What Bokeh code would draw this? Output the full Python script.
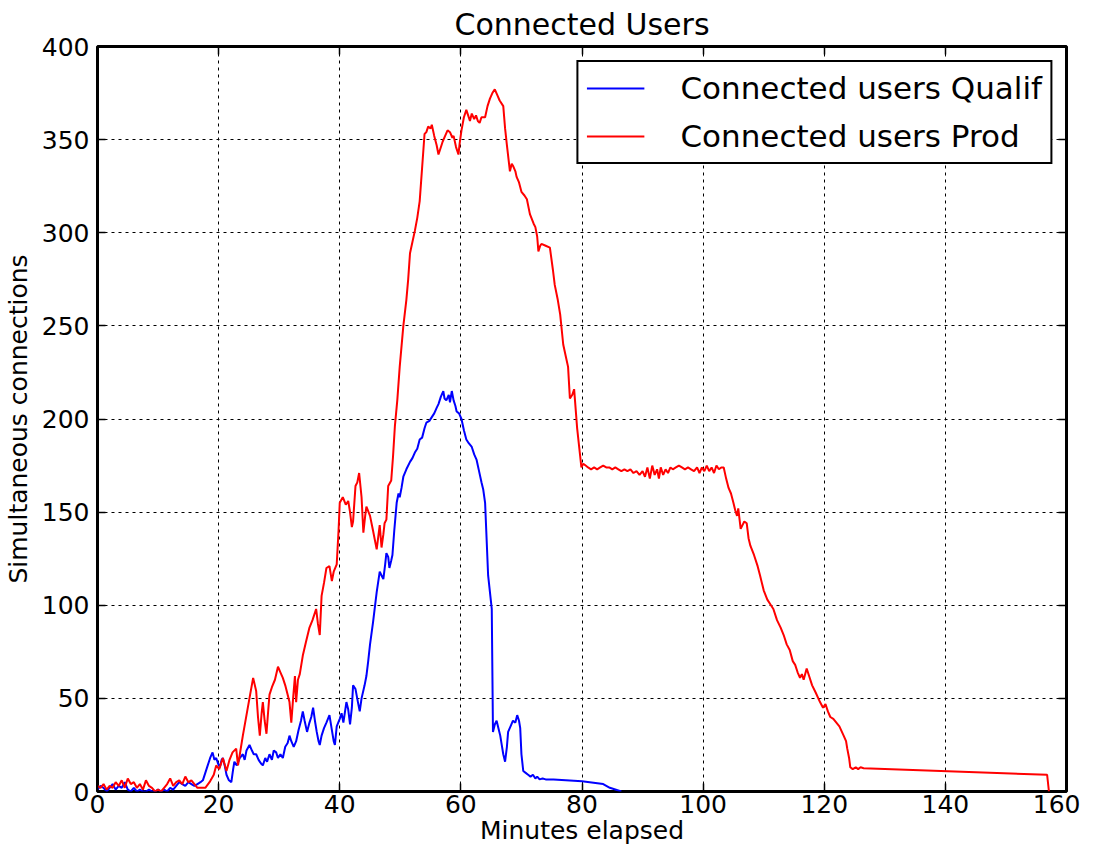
from bokeh.plotting import figure
from bokeh.models import LinearAxis, FixedTicker
from bokeh.embed import file_html
from bokeh.resources import INLINE

# ---- data (minutes elapsed, simultaneous connections) ----
prod_x = [0.0, 0.5, 1.0, 1.5, 2.0, 2.5, 3.0, 3.5, 4.0, 4.5, 5.0, 5.5, 6.0, 6.5, 7.0, 7.5, 8.0, 8.5, 9.0, 9.5,
          10.0, 10.5, 11.0, 11.5, 12.0, 12.5, 13.0, 13.5, 14.0, 14.5, 15.0, 15.5, 16.0, 16.5, 17.0, 17.8, 18.5,
          19.2, 19.6, 20.1, 20.7, 21.3, 21.8, 22.3, 22.9, 23.2, 23.6, 24.0, 24.6, 25.2, 25.7, 26.2, 26.5, 26.8,
          27.1, 27.3, 27.6, 27.9, 28.2, 28.4, 28.8, 29.3, 29.8, 30.2, 30.6, 31.0, 31.4, 31.7, 32.0, 32.3, 32.6,
          32.8, 33.1, 33.4, 33.9, 34.4, 35.0, 35.5, 36.1, 36.4, 36.7, 37.0, 37.4, 37.8, 38.3, 38.7, 39.0, 39.5,
          39.8, 40.0, 40.5, 41.0, 41.4, 41.7, 42.0, 42.2, 42.6, 42.9, 43.2, 43.6, 43.9, 44.2, 44.4, 45.0, 45.5,
          46.1, 46.6, 46.9, 47.2, 47.4, 47.7, 48.0, 48.5, 48.8, 49.1, 49.5, 49.9, 50.5, 51.0, 51.3, 51.6, 52.0,
          52.4, 52.8, 53.2, 53.6, 54.0, 54.3, 54.6, 55.0, 55.2, 55.6, 56.0, 56.3, 56.6, 57.0, 57.4, 57.8, 58.2,
          58.6, 58.8, 59.2, 59.6, 59.8, 60.1, 60.5, 60.9, 61.2, 61.5, 61.8, 62.2, 62.5, 62.8, 63.1, 63.4, 64.0,
          64.4, 64.8, 65.2, 65.6, 66.0, 66.4, 67.0, 67.3, 67.6, 68.1, 68.4, 68.6, 69.0, 69.2, 69.6, 70.0, 70.5,
          70.9, 71.4, 72.0, 72.3, 72.6, 72.8, 73.1, 73.3, 74.0, 74.7, 75.2, 75.5, 76.0, 76.4, 76.9, 77.3, 77.7,
          78.0, 78.4, 78.7, 79.2, 79.7, 79.9, 80.2, 80.6, 81.0, 81.5, 82.0, 82.5, 83.0, 83.5, 84.0, 84.5, 85.0,
          85.5, 86.0, 86.5, 87.0, 87.5, 88.0, 88.5, 89.0, 89.5, 90.0, 90.4, 90.8, 91.2, 91.6, 92.0, 92.4, 92.7,
          93.0, 93.4, 93.8, 94.2, 94.6, 95.0, 95.5, 96.0, 96.5, 97.0, 97.5, 98.0, 98.5, 99.0, 99.4, 99.8, 100.2,
          100.6, 101.0, 101.4, 101.8, 102.2, 102.6, 103.0, 103.4, 103.8, 104.2, 104.6, 105.0, 105.3, 105.6,
          105.8, 106.2, 106.5, 106.8, 107.2, 107.5, 107.8, 108.4, 109.0, 109.4, 110.0, 110.6, 111.2, 111.6,
          112.2, 112.8, 113.3, 113.8, 114.3, 114.8, 115.2, 115.6, 116.0, 116.3, 116.6, 117.1, 117.5, 118.0,
          118.6, 119.3, 119.8, 120.2, 120.6, 121.0, 121.5, 122.0, 122.5, 123.2, 123.6, 123.8, 124.1, 124.3,
          124.7, 125.2, 125.6, 126.0, 126.5, 156.8, 157.1]
prod_y = [3, 2, 4, 1, 3, 2, 5, 3, 6, 2, 7, 4, 5, 2, 4, 1, 6, 3, 2, 0,
          1, 0, 2, 4, 7, 3, 5, 6, 4, 8, 5, 6, 4, 2, 2, 2, 5,
          9, 14, 12, 18, 11, 17, 21, 23, 14, 22, 30, 41, 52, 61, 54, 40, 30,
          42, 48, 38, 31, 44, 52, 56, 60, 67, 64, 61, 57, 52, 48, 37, 50, 62,
          48, 60, 63, 73, 80, 88, 92, 98, 90, 84, 105, 112, 120, 121, 113, 118, 122,
          140, 155, 158, 154, 156, 150, 142, 145, 164, 166, 171, 158, 139, 148, 153, 148, 140,
          130, 143, 131, 138, 144, 146, 164, 167, 180, 196, 210, 228, 250, 264, 275, 289, 295,
          301, 308, 317, 335, 353, 354, 357, 356, 358, 352, 347, 342, 345, 349, 352, 355, 354,
          351, 352, 346, 342, 348, 355, 362, 366, 363, 360, 364, 361, 363, 360, 359, 362, 362,
          368, 372, 375, 377, 374, 371, 368, 356, 347, 333, 337, 336, 333, 330, 327, 322, 320,
          318, 310, 305, 303, 298, 290, 293, 294, 293, 292, 280, 272, 264, 256, 240, 234, 228,
          211, 213, 216, 195, 180, 174, 176, 175, 174, 173, 174, 173, 174, 175, 174, 174, 173,
          174, 173, 172, 173, 172, 173, 171, 172, 170, 172, 169, 174, 168, 175, 170, 173, 168,
          174, 170, 173, 171, 174, 173, 174, 175, 174, 173, 174, 173, 172, 174, 171, 174, 172,
          175, 172, 174, 171, 175, 173, 174, 174, 168, 163, 160, 155, 151, 148,
          152, 141, 143, 145, 144, 136, 132, 127, 121, 116, 108, 103, 100, 98,
          92, 88, 84, 79, 76, 70, 68, 64, 61, 63, 60, 66, 62, 57,
          53, 48, 45, 47, 43, 40, 39, 37, 35, 30, 27, 23, 18, 13,
          12, 13, 12, 13, 12.5, 9, 0]

qualif_x = [0.0, 0.5, 1.0, 1.5, 2.0, 2.5, 3.0, 3.5, 4.0, 4.5, 5.0, 5.5, 6.0, 6.5, 7.0, 7.5, 8.0, 8.5, 9.0, 9.5,
            10.0, 10.5, 11.0, 11.5, 12.0, 12.5, 13.0, 13.5, 14.0, 14.5, 15.0, 15.5, 16.0, 16.5, 17.0, 17.4,
            17.8, 18.2, 18.6, 19.0, 19.3, 19.6, 19.9, 20.2, 20.5, 20.7, 21.0, 21.3, 21.7, 22.1, 22.4, 22.6,
            23.0, 23.5, 24.0, 24.3, 24.6, 25.1, 25.5, 25.8, 26.2, 26.6, 27.0, 27.3, 27.7, 28.0, 28.4, 28.8,
            29.1, 29.5, 29.8, 30.2, 30.6, 31.0, 31.4, 31.7, 32.0, 32.4, 32.8, 33.2, 33.6, 33.9, 34.2, 34.6,
            35.0, 35.3, 35.6, 35.9, 36.2, 36.5, 36.7, 37.0, 37.4, 37.8, 38.3, 38.7, 39.0, 39.2, 39.5, 40.0,
            40.3, 40.6, 41.1, 41.4, 41.7, 42.0, 42.2, 42.6, 43.0, 43.3, 43.6, 44.1, 44.4, 44.7, 45.0, 45.5,
            46.1, 46.6, 46.9, 47.2, 47.5, 47.7, 48.0, 48.2, 48.5, 48.7, 49.0, 49.4, 49.7, 49.9, 50.2, 50.5,
            51.0, 51.6, 52.0, 52.4, 52.8, 53.2, 53.6, 54.0, 54.3, 54.8, 55.2, 55.6, 56.0, 56.3, 56.7, 57.1,
            57.3, 57.6, 58.0, 58.2, 58.5, 58.8, 59.1, 59.3, 59.7, 60.1, 60.5, 60.9, 61.3, 61.8, 62.2, 62.6,
            63.0, 63.4, 63.7, 64.0, 64.5, 65.1, 65.3, 65.6, 65.9, 66.2, 66.5, 66.7, 67.0, 67.3, 67.6, 67.8,
            68.2, 68.6, 69.0, 69.3, 69.6, 69.8, 70.0, 70.3, 70.7, 71.1, 71.5, 71.9, 72.3, 72.6, 73.0, 73.5,
            74.0, 75.3, 80.0, 83.5, 84.6, 86.5]
qualif_y = [1, 3, 2, 0, 2, 4, 1, 3, 2, 5, 1, 0, 2, 0, 1, 0, 0, 1, 0, 0,
            1, 0, 1, 0, 2, 1, 3, 5, 4, 3, 5, 4, 3, 4, 5, 6,
            10, 14, 18, 21, 17, 18, 15, 13, 17, 18, 14, 9, 6, 5, 12, 16,
            14, 18, 20, 17, 22, 25, 22, 20, 20, 17, 15, 14, 18, 16, 20, 17,
            22, 21, 18, 20, 18, 24, 26, 30, 27, 24, 27, 33, 38, 43, 38, 32,
            37, 40, 45, 38, 32, 27, 25, 30, 34, 37, 41, 33, 27, 25, 35, 39,
            42, 37, 48, 44, 36, 45, 57, 55, 48, 43, 50, 57, 62, 70, 79, 91,
            107, 118, 116, 114, 122, 128, 126, 120, 124, 127, 140, 155, 160, 158, 163, 169,
            173, 177, 179, 182, 184, 189, 190, 195, 198, 199, 201, 203, 206, 208, 212, 215,
            211, 210, 213, 209, 215, 210, 207, 204, 203, 200, 194, 189, 187, 185, 181, 178,
            172, 166, 162, 155, 116, 98, 32, 36, 38, 34, 30, 26, 20, 16, 24, 32,
            35, 38, 37, 41, 38, 34, 20, 11, 10, 9, 8, 9, 7, 8, 6.5, 7,
            6.5, 6.5, 5.5, 4, 2, 0]

x_ticks = [0, 20, 40, 60, 80, 100, 120, 140, 160]
y_ticks = [0, 50, 100, 150, 200, 250, 300, 350, 400]

FONT = "DejaVu Sans"

p = figure(width=1080, height=847, x_range=(0, 160), y_range=(0, 400),
           output_backend="svg", toolbar_location=None, title="Connected Users",
           min_border_left=90, min_border_right=14, min_border_top=40, min_border_bottom=50)

p.title.align = "center"
p.title.text_font = FONT
p.title.text_font_size = "30px"
p.title.text_font_style = "normal"
p.title.text_color = "black"
p.title.standoff = 9
p.title.offset = 0

p.line(qualif_x, qualif_y, color="#0000ff", line_width=2, legend_label="Connected users Qualif")
p.line(prod_x, prod_y, color="#ff0000", line_width=2, legend_label="Connected users Prod")

bottom_ax = p.below[0]
left_ax = p.left[0]
bottom_ax.axis_label = "Minutes elapsed"
left_ax.axis_label = "Simultaneous connections"

# extra axes for inside ticks on top/right (no labels)
top_ax = LinearAxis(major_label_overrides={t: "" for t in x_ticks})
right_ax = LinearAxis(major_label_overrides={t: "" for t in y_ticks})
p.add_layout(top_ax, "above")
p.add_layout(right_ax, "right")

for ax in [bottom_ax, left_ax, top_ax, right_ax]:
    ax.axis_line_color = None
    ax.major_tick_in = 8
    ax.major_tick_out = 0
    ax.minor_tick_line_color = None
    ax.major_tick_line_color = "black"
    ax.major_tick_line_width = 1.5
    ax.major_label_text_font = FONT
    ax.major_label_text_font_size = "25px"
    ax.major_label_text_color = "black"
    ax.axis_label_text_font = FONT
    ax.axis_label_text_font_size = "25px"
    ax.axis_label_text_font_style = "normal"
    ax.axis_label_text_color = "black"

bottom_ax.ticker = FixedTicker(ticks=x_ticks)
top_ax.ticker = FixedTicker(ticks=x_ticks)
left_ax.ticker = FixedTicker(ticks=y_ticks)
right_ax.ticker = FixedTicker(ticks=y_ticks)
bottom_ax.major_label_standoff = 3
left_ax.major_label_standoff = 8
bottom_ax.axis_label_standoff = 0
left_ax.axis_label_standoff = 6
for ax in [top_ax, right_ax]:
    ax.major_label_standoff = 0
    ax.major_label_text_font_size = "8px"
    ax.axis_label_standoff = 0

p.grid.grid_line_color = "black"
p.grid.grid_line_dash = "3 4"
p.grid.grid_line_width = 1
p.xgrid.ticker = FixedTicker(ticks=x_ticks)
p.ygrid.ticker = FixedTicker(ticks=y_ticks)

p.outline_line_color = "black"
p.outline_line_width = 3
p.outline_line_alpha = 1

p.legend.location = "top_right"
p.legend.margin = 14
p.legend.padding = 8
p.legend.spacing = 12
p.legend.glyph_width = 58
p.legend.glyph_height = 30
p.legend.label_height = 30
p.legend.label_standoff = 36
p.legend.label_text_font = FONT
p.legend.label_text_font_size = "31px"
p.legend.label_text_color = "black"
p.legend.border_line_color = "black"
p.legend.border_line_alpha = 1
p.legend.border_line_width = 2.5
p.legend.background_fill_alpha = 1

open("out.html", "w").write(file_html(p, INLINE))
